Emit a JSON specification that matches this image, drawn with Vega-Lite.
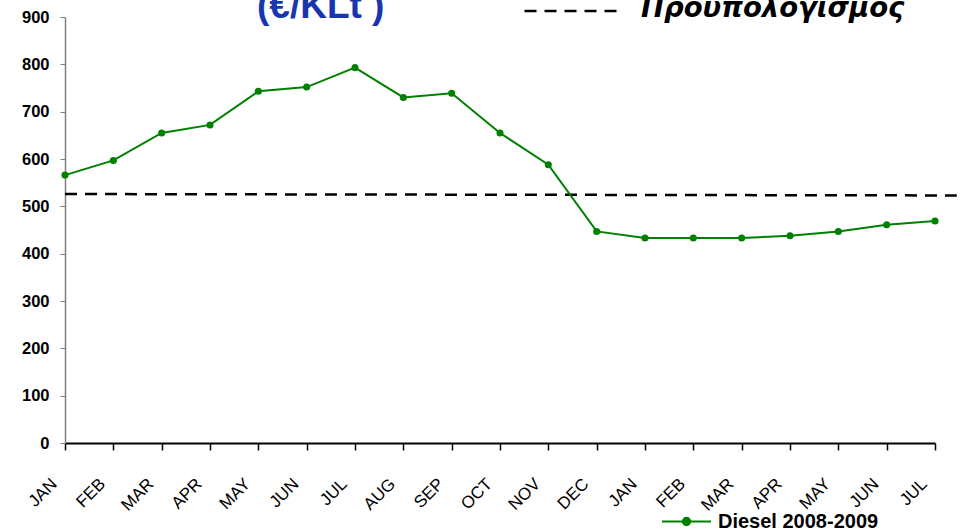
{
  "$schema": "https://vega.github.io/schema/vega-lite/v6.json",
  "width": 870,
  "height": 426,
  "autosize": {"type": "none"},
  "padding": {"left": 65, "top": 17, "right": 28, "bottom": 88},
  "background": "white",
  "title": {
    "text": "(€/KLt )",
    "font": "Liberation Sans",
    "fontSize": 37,
    "fontWeight": "bold",
    "color": "#1736b0",
    "anchor": "start",
    "frame": "group",
    "orient": "top",
    "baseline": "alphabetic",
    "offset": -87,
    "dx": 192
  },
  "config": {
    "view": {"stroke": null},
    "font": "Liberation Sans"
  },
  "datasets": {
    "diesel": [
      {"i": 0, "v": 566, "series": "Diesel 2008-2009"},
      {"i": 1, "v": 597, "series": "Diesel 2008-2009"},
      {"i": 2, "v": 655, "series": "Diesel 2008-2009"},
      {"i": 3, "v": 672, "series": "Diesel 2008-2009"},
      {"i": 4, "v": 743, "series": "Diesel 2008-2009"},
      {"i": 5, "v": 752, "series": "Diesel 2008-2009"},
      {"i": 6, "v": 793, "series": "Diesel 2008-2009"},
      {"i": 7, "v": 730, "series": "Diesel 2008-2009"},
      {"i": 8, "v": 739, "series": "Diesel 2008-2009"},
      {"i": 9, "v": 655, "series": "Diesel 2008-2009"},
      {"i": 10, "v": 588, "series": "Diesel 2008-2009"},
      {"i": 11, "v": 447, "series": "Diesel 2008-2009"},
      {"i": 12, "v": 433, "series": "Diesel 2008-2009"},
      {"i": 13, "v": 433, "series": "Diesel 2008-2009"},
      {"i": 14, "v": 433, "series": "Diesel 2008-2009"},
      {"i": 15, "v": 438, "series": "Diesel 2008-2009"},
      {"i": 16, "v": 447, "series": "Diesel 2008-2009"},
      {"i": 17, "v": 461, "series": "Diesel 2008-2009"},
      {"i": 18, "v": 469, "series": "Diesel 2008-2009"}
    ],
    "budget": [
      {"i": 0, "b": 526, "series": "Προυπολογισμος"},
      {"i": 18.45, "b": 523, "series": "Προυπολογισμος"}
    ]
  },
  "layer": [
    {
      "data": {"name": "budget"},
      "mark": {"type": "line", "color": "black", "strokeWidth": 2.5, "clip": false},
      "encoding": {
        "x": {
          "field": "i",
          "type": "quantitative",
          "scale": {"domain": [0, 18], "nice": false, "zero": false},
          "axis": {
            "values": [0, 1, 2, 3, 4, 5, 6, 7, 8, 9, 10, 11, 12, 13, 14, 15, 16, 17, 18],
            "labelExpr": "['JAN','FEB','MAR','APR','MAY','JUN','JUL','AUG','SEP','OCT','NOV','DEC','JAN','FEB','MAR','APR','MAY','JUN','JUL'][datum.value]",
            "title": null,
            "grid": false,
            "domainColor": "black",
            "domainWidth": 2,
            "tickColor": "black",
            "tickWidth": 1.5,
            "tickSize": 7,
            "labelAngle": -45,
            "labelAlign": "right",
            "labelBaseline": "middle",
            "labelOffset": -11,
            "labelPadding": 31,
            "labelFont": "Liberation Sans",
            "labelFontSize": 17,
            "labelColor": "black",
            "labelOverlap": false,
            "labelBound": false,
            "labelFlush": false
          }
        },
        "y": {
          "field": "b",
          "type": "quantitative",
          "scale": {"domain": [0, 900], "nice": false},
          "axis": {
            "values": [0, 100, 200, 300, 400, 500, 600, 700, 800, 900],
            "title": null,
            "grid": false,
            "domainColor": "#808080",
            "domainWidth": 1.5,
            "tickColor": "#808080",
            "tickSize": 5,
            "labelPadding": 11,
            "labelFont": "Liberation Sans",
            "labelFontSize": 16.5,
            "labelFontWeight": "bold",
            "labelColor": "black",
            "labelBaseline": "middle",
            "zindex": 0
          }
        },
        "strokeDash": {
          "field": "series",
          "type": "nominal",
          "scale": {"range": [[12, 8]]},
          "legend": {
            "orient": "none",
            "legendX": 458,
            "legendY": -49,
            "title": null,
            "padding": 0,
            "symbolType": "M-1,-0.126L1,-0.126",
            "symbolSize": 9025,
            "symbolStrokeColor": "black",
            "symbolStrokeWidth": 2.5,
            "symbolDash": [12, 8],
            "labelOffset": 20,
            "labelFont": "DejaVu Sans",
            "labelFontSize": 27.5,
            "labelFontWeight": "bold",
            "labelFontStyle": "italic",
            "labelBaseline": "alphabetic",
            "labelColor": "black",
            "labelLimit": 0
          }
        }
      }
    },
    {
      "data": {"name": "diesel"},
      "mark": {"type": "line", "strokeWidth": 2, "point": {"filled": true, "size": 50}},
      "encoding": {
        "x": {"field": "i", "type": "quantitative"},
        "y": {"field": "v", "type": "quantitative"},
        "color": {
          "field": "series",
          "type": "nominal",
          "scale": {"range": ["#008000"]},
          "legend": {
            "orient": "none",
            "legendX": 596,
            "legendY": 479,
            "title": null,
            "padding": 0,
            "symbolType": "M-1,0L1,0M-0.15,0A0.15,0.15 0 1,1 0.15,0A0.15,0.15 0 1,1 -0.15,0Z",
            "symbolSize": 2401,
            "symbolStrokeColor": "#008000",
            "symbolFillColor": "#008000",
            "symbolStrokeWidth": 2,
            "labelOffset": 6,
            "labelFont": "Liberation Sans",
            "labelFontSize": 20,
            "labelFontWeight": "bold",
            "labelColor": "black",
            "labelLimit": 0
          }
        }
      }
    }
  ]
}
